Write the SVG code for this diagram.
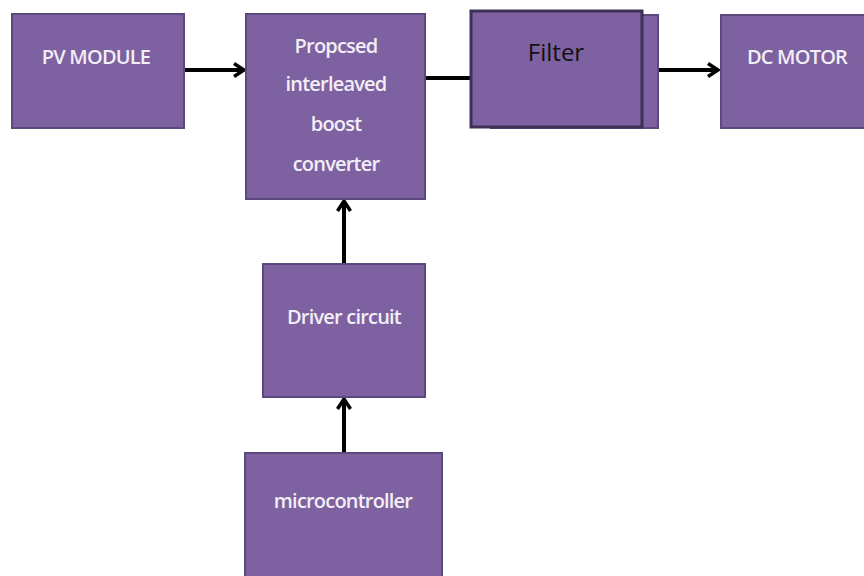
<svg xmlns="http://www.w3.org/2000/svg" width="864" height="576" viewBox="0 0 864 576">
<style>
.box{fill:#7e61a0;stroke:#5d4a7c;stroke-width:2}
.lbl{font-family:"Open Sans","Liberation Sans",sans-serif;font-size:20px;font-weight:600;fill:#f2eef7;text-anchor:middle;letter-spacing:-0.8px}
.conn{stroke:#000;stroke-width:4;fill:none}
</style>
<defs>
<marker id="ah" viewBox="0 0 14 16" refX="12" refY="8" markerWidth="14" markerHeight="16" markerUnits="userSpaceOnUse" orient="auto">
<path d="M2,1.5 L12,8 L2,14.5" fill="none" stroke="#000" stroke-width="3.5"/>
</marker>
</defs>
<rect width="864" height="576" fill="#fff"/>
<g id="connectors">
<line class="conn" x1="184" y1="70" x2="244" y2="70" marker-end="url(#ah)"/>
<line class="conn" x1="425" y1="78" x2="472" y2="78"/>
<line class="conn" x1="658" y1="70" x2="718" y2="70" marker-end="url(#ah)"/>
<line class="conn" x1="344" y1="264" x2="344" y2="201" marker-end="url(#ah)"/>
<line class="conn" x1="344" y1="453" x2="344" y2="399" marker-end="url(#ah)"/>
</g>
<g id="pv">
<rect class="box" x="12" y="14" width="172" height="114"/>
<text class="lbl" x="96" y="64">PV MODULE</text>
</g>
<g id="converter">
<rect class="box" x="246" y="14" width="179" height="185"/>
<text class="lbl" x="336" y="53">Propcsed</text>
<text class="lbl" x="336" y="91">interleaved</text>
<text class="lbl" x="336" y="131">boost</text>
<text class="lbl" x="336" y="171">converter</text>
</g>
<g id="filter">
<rect class="box" x="491" y="15" width="167" height="113" stroke="none"/>
<rect x="471" y="11" width="171" height="116" fill="#7e61a0" stroke="#3e3158" stroke-width="3"/>
<text x="556" y="61" font-family="'Open Sans','Liberation Sans',sans-serif" font-size="24" fill="#111" text-anchor="middle">Filter</text>
</g>
<g id="motor">
<rect class="box" x="721" y="15" width="150" height="113"/>
<text class="lbl" x="797" y="64">DC MOTOR</text>
</g>
<g id="driver">
<rect class="box" x="263" y="264" width="162" height="133"/>
<text class="lbl" x="344" y="324">Driver circuit</text>
</g>
<g id="micro">
<rect class="box" x="245" y="453" width="197" height="130"/>
<text class="lbl" x="343" y="508">microcontroller</text>
</g>
</svg>
